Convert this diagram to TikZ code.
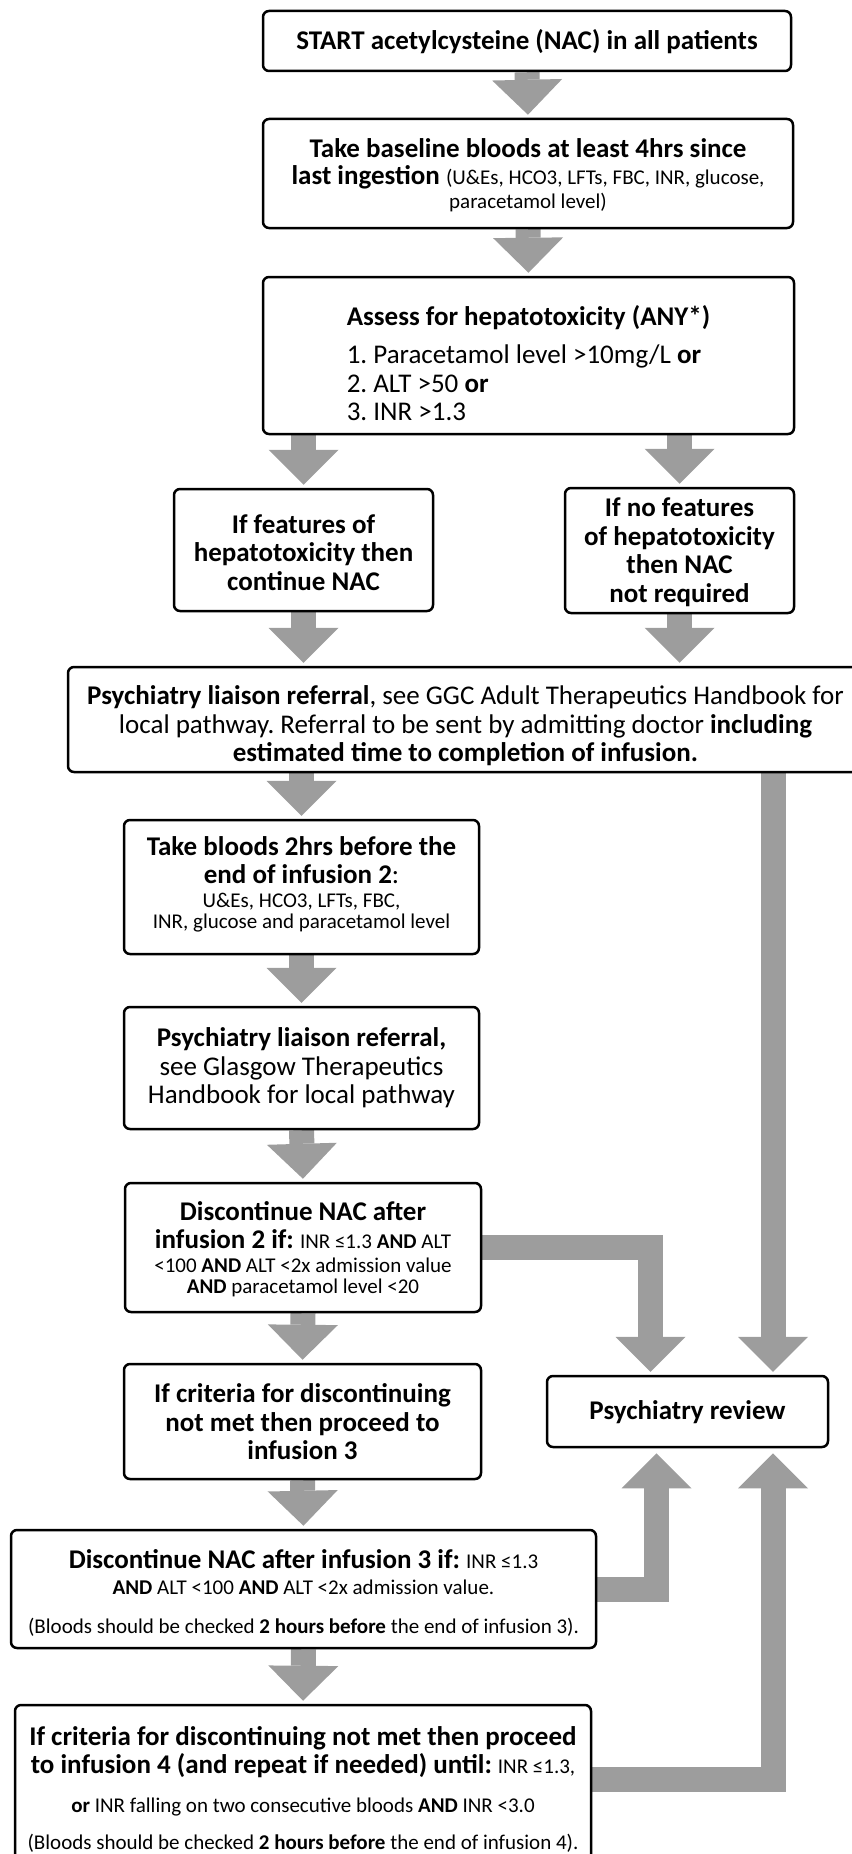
\documentclass[tikz,border=0pt]{standalone}
\usepackage{fontspec}
\setmainfont{Carlito}
\usetikzlibrary{arrows.meta,calc}
\pgfdeclarelayer{bg}
\pgfsetlayers{bg,main}
\definecolor{arrgray}{HTML}{9D9D9D}
\newcommand{\bigf}{\fontsize{27}{28.5}\selectfont}
\newcommand{\smf}{\fontsize{21}{24}\selectfont}
\newcommand{\topS}[1]{\rule{0pt}{#1pt}}
\newcommand{\botS}[1]{\rule[-#1pt]{0pt}{#1pt}}
\begin{document}
\frenchspacing
\begin{tikzpicture}[x=1pt,y=-1pt,
  box/.style={draw=black, line width=2.5pt, rounded corners=6pt, fill=white,
    align=center, inner sep=0pt, font=\bigf},
  bbox/.style={box, font=\bigf\bfseries},
  barr/.style={draw=arrgray, line width=25pt,
    -{Triangle[width=70pt,length=35pt,line width=0pt]}, shorten >=3pt},
]
\useasboundingbox (0,0) rectangle (851,1854);

\node[bbox, minimum width=528pt, minimum height=60pt] (b1) at (527,41)
  {\topS{26}START acetylcysteine (NAC) in all patients\botS{8}};

\node[box, minimum width=530pt, minimum height=109pt] (b2) at (528,173.5)
  {\topS{26}\textbf{Take baseline bloods at least 4hrs since}\\[-1pt]
   \textbf{last ingestion} {\smf (U\&Es, HCO3, LFTs, FBC, INR, glucose,}\\[-5pt]
   {\smf paracetamol level)}\botS{8}};

\node[box, align=left, minimum width=531pt, minimum height=157pt] (b3) at (528.5,355.5)
  {\topS{42}\textbf{Assess for hepatotoxicity (ANY*)}\\[10pt]
   1. Paracetamol level >10mg/L \textbf{or}\\
   2. ALT >50 \textbf{or}\\[-0.5pt]
   3. INR >1.3\botS{8}};

\node[bbox, minimum width=259pt, minimum height=122pt] (b4) at (303.5,550)
  {\topS{31}If features of\\hepatotoxicity then\\continue NAC\botS{8}};

\node[bbox, minimum width=229pt, minimum height=125pt] (b5) at (679.5,550.5)
  {\topS{26}If no features\\of hepatotoxicity\\then NAC\\not required\botS{8}};

\node[box, minimum width=795pt, minimum height=105pt] (b6) at (465.5,719.5)
  {\topS{35.5}\textbf{Psychiatry liaison referral}, see GGC Adult Therapeutics Handbook for\\
   local pathway. Referral to be sent by admitting doctor \textbf{including}\\
   \textbf{estimated time to completion of infusion.}\botS{8}};

\node[box, minimum width=355pt, minimum height=134pt] (b7) at (301.5,887)
  {\topS{25}\textbf{Take bloods 2hrs before the}\\
   \textbf{end of infusion 2}:\\[-5pt]
   {\smf U\&Es, HCO3, LFTs, FBC,}\\[-7pt]
   {\smf INR, glucose and paracetamol level}\botS{15.5}};

\node[box, minimum width=355pt, minimum height=122pt] (b8) at (301.5,1068)
  {\topS{25}\textbf{Psychiatry liaison referral,}\\
   see Glasgow Therapeutics\\
   Handbook for local pathway\botS{11}};

\node[box, minimum width=356pt, minimum height=129pt] (b9) at (303,1247.5)
  {\topS{26.5}\textbf{Discontinue NAC after}\\
   \textbf{infusion 2 if:} {\smf INR ≤1.3 \textbf{AND} ALT}\\[-5pt]
   {\smf <100 \textbf{AND} ALT <2x admission value}\\[-7pt]
   {\smf \textbf{AND} paracetamol level <20}\botS{8}};

\node[bbox, minimum width=357pt, minimum height=115pt] (b10) at (302.5,1421.5)
  {\topS{27.5}If criteria for discontinuing\\not met then proceed to\\infusion 3\botS{8}};

\node[bbox, minimum width=281pt, minimum height=71pt] (pr) at (687.5,1411.5)
  {\topS{25}Psychiatry review\botS{9.5}};

\node[box, minimum width=585pt, minimum height=118pt] (b11) at (303.5,1589)
  {\topS{31}\textbf{Discontinue NAC after infusion 3 if:} {\smf INR ≤1.3}\\[-2.5pt]
   {\smf \textbf{AND} ALT <100 \textbf{AND} ALT <2x admission value.}\\[10.5pt]
   {\smf (Bloods should be checked \textbf{2 hours before} the end of infusion 3).}\botS{8}};

\node[box, minimum width=576pt, minimum height=158pt] (b12) at (303,1784)
  {\topS{34.5}\textbf{If criteria for discontinuing not met then proceed}\\
   \textbf{to infusion 4 (and repeat if needed) until:} {\smf INR ≤1.3,}\\[10pt]
   {\smf \textbf{or} INR falling on two consecutive bloods \textbf{AND} INR <3.0}\\[9pt]
   {\smf (Bloods should be checked \textbf{2 hours before} the end of infusion 4).}\botS{8}};

\coordinate (prDL) at ($(pr.north)+(-37,0)$);
\coordinate (prDR) at ($(pr.north)+(85.5,0)$);
\coordinate (prUL) at ($(pr.south)+(-31,0)$);
\coordinate (prUR) at ($(pr.south)+(85.5,0)$);

\begin{pgfonlayer}{bg}
\draw[barr] (b1.south) -- (b2.north);
\draw[barr] (b2.south) -- (b3.north);
\draw[barr] (b3.south -| b4.north) -- (b4.north);
\draw[barr] (b3.south -| b5.north) -- (b5.north);
\draw[barr] (b4.south) -- (b6.north -| b4.south);
\draw[barr] (b5.south) -- (b6.north -| b5.south);
\draw[barr] (b6.south -| b7.north) -- (b7.north);
\draw[barr] (b7.south) -- (b8.north);
\draw[barr] (b8.south) -- (b9.north);
\draw[barr] (b9.south) -- (b10.north);
\draw[barr] (b10.south) -- (b11.north);
\draw[barr] (b11.south) -- (b12.north);
\draw[barr] (b9.east) -| (prDL);
\draw[barr] (b6.south -| prDR) -- (prDR);
\draw[barr, shorten >=5pt] (b11.east) -| (prUL);
\draw[barr, shorten >=5pt] ($(b12.north east)+(0,76)$) -| (prUR);
\end{pgfonlayer}
\end{tikzpicture}
\end{document}
